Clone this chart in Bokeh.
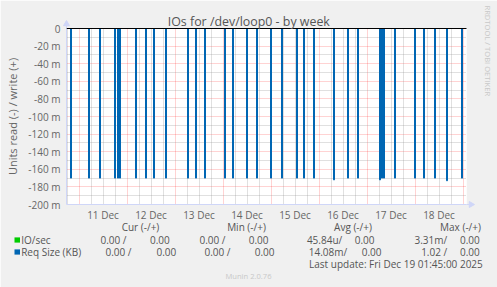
import math
import pandas as pd
from bokeh.plotting import figure
from bokeh.models import Range1d, FixedTicker, Grid, CustomJSTickFormatter
from bokeh.core.properties import value
from bokeh.embed import file_html
from bokeh.resources import INLINE

# ---------------- data ----------------
title_text = "IOs for /dev/loop0 - by week"
y_label = "Units read (-) / write (+)"
window_start = "2025-12-10 17:45"
window_end = "2025-12-19 01:45"
day_labels = ["2025-12-11", "2025-12-12", "2025-12-13", "2025-12-14",
              "2025-12-15", "2025-12-16", "2025-12-17", "2025-12-18"]
y_ticks = [0, -20, -40, -60, -80, -100, -120, -140, -160, -180, -200]  # milli-units

# Req Size (KB), read side (negative), in milli-units
spike_times = [
    "2025-12-10 20:00", "2025-12-11 05:00", "2025-12-11 10:30", "2025-12-11 18:00",
    "2025-12-11 19:30", "2025-12-11 20:30", "2025-12-12 04:30", "2025-12-12 09:30",
    "2025-12-12 13:30", "2025-12-12 19:30", "2025-12-13 06:30", "2025-12-13 10:30",
    "2025-12-13 15:00", "2025-12-14 01:00", "2025-12-14 05:00", "2025-12-14 12:00",
    "2025-12-14 17:00", "2025-12-15 00:00", "2025-12-15 05:30", "2025-12-15 13:00",
    "2025-12-15 16:30", "2025-12-15 21:30", "2025-12-16 07:30", "2025-12-16 14:30",
    "2025-12-16 19:30", "2025-12-17 06:30", "2025-12-17 07:30", "2025-12-17 08:30",
    "2025-12-17 14:00", "2025-12-18 00:00", "2025-12-18 04:30", "2025-12-18 10:00",
    "2025-12-18 16:00", "2025-12-18 23:30",
]
spike_values = [
    -170, -170, -170, -170, -170, -170, -170, -170,
    -170, -170, -170, -170, -170, -170, -170, -170,
    -170, -170, -170, -170, -170, -170, -172, -170,
    -170, -172, -170, -170, -170, -170, -170, -170,
    -173, -170,
]

legend_names = ["IO/sec", "Req Size (KB)"]
legend_colors = ["#00cc00", "#0066b3"]
cur_read = ["0.00 ", "0.00 "]
cur_write = ["0.00", "0.00"]
min_read = ["0.00 ", "0.00 "]
min_write = ["0.00", "0.00"]
avg_read = ["45.84u", "14.08m"]
avg_write = ["0.00", "0.00"]
max_read = ["3.31m", "1.02 "]
max_write = ["0.00", "0.00"]
headers = ["Cur (-/+)", "Min (-/+)", "Avg (-/+)", "Max (-/+)"]
last_update = "Last update: Fri Dec 19 01:45:00 2025"
munin_version = "Munin 2.0.76"
watermark = "RRDTOOL / TOBI OETIKER"

# ---------------- helpers ----------------
def ms(s):
    return pd.Timestamp(s).value // 10**6

FONT = "Open Sans"
AXC = "#CFD6F8"
TXT = "#555555"
W, H = 497, 287
FL, FR, FT, FB = 66, 466, 28, 204   # frame edges in canvas px

x0, x1 = ms(window_start), ms(window_end)

p = figure(width=W, height=H, x_axis_type="datetime", output_backend="svg",
           toolbar_location=None, title=None,
           x_range=Range1d(x0, x1), y_range=Range1d(-200, 0),
           min_border_left=FL, min_border_right=W - FR,
           min_border_top=FT, min_border_bottom=H - FB)
p.border_fill_color = "#f0f0f0"
p.background_fill_color = "white"
p.outline_line_color = None
# canvas-pixel coordinate system for the decorations around the plot area
p.extra_x_ranges = {"px": Range1d(FL, FR)}
p.extra_y_ranges = {"px": Range1d(FB, FT)}

# ---------------- grids ----------------
noon_ticks = [ms(d + " 12:00") for d in day_labels]
midnights = [ms(d) for d in day_labels] + [ms("2025-12-19")]
six_hours = [int(t.value // 10**6)
             for t in pd.date_range("2025-12-10 18:00", "2025-12-19 00:00", freq="6h")
             if t.hour != 0]
minor_y = [v - 10 for v in y_ticks[:-1]]

# major grid (red dotted) -- configure before adding the minor grids
p.xgrid.ticker = FixedTicker(ticks=midnights)
p.ygrid.ticker = FixedTicker(ticks=y_ticks)
for g in (p.xgrid, p.ygrid):
    g.grid_line_color = "#ff0000"
    g.grid_line_alpha = 0.35
    g.grid_line_dash = "1 1"

# minor grid (grey dotted)
p.add_layout(Grid(dimension=0, axis=p.xaxis[0], ticker=FixedTicker(ticks=six_hours),
                  grid_line_color="#909090", grid_line_alpha=0.55, grid_line_dash="1 1",
                  level="underlay"), "center")
p.add_layout(Grid(dimension=1, axis=p.yaxis[0], ticker=FixedTicker(ticks=minor_y),
                  grid_line_color="#909090", grid_line_alpha=0.55, grid_line_dash="1 1",
                  level="underlay"), "center")

# ---------------- axes ----------------
p.xaxis.ticker = FixedTicker(ticks=noon_ticks)
p.xaxis.formatter = CustomJSTickFormatter(code="""
const m = ["Jan","Feb","Mar","Apr","May","Jun","Jul","Aug","Sep","Oct","Nov","Dec"];
const d = new Date(tick);
return d.getUTCDate() + " " + m[d.getUTCMonth()];
""")
p.yaxis.ticker = FixedTicker(ticks=y_ticks)
p.yaxis.formatter = CustomJSTickFormatter(code="return tick == 0 ? '0' : tick + ' m';")
for ax in (p.xaxis, p.yaxis):
    ax.axis_line_color = AXC
    ax.major_tick_out = 0
    ax.major_tick_in = 0
    ax.minor_tick_out = 0
    ax.minor_tick_in = 0
    ax.major_label_text_font = FONT
    ax.major_label_text_font_size = "10px"
    ax.major_label_text_color = "#666666"
p.xaxis.major_label_standoff = 3
p.yaxis.major_label_standoff = 6
p.yaxis.axis_label = y_label
p.yaxis.axis_label_text_font = FONT
p.yaxis.axis_label_text_font_size = "11px"
p.yaxis.axis_label_text_font_style = "normal"
p.yaxis.axis_label_text_color = "#666666"
p.yaxis.axis_label_standoff = 5

# ---------------- data marks: step-shaped spikes on the read side ----------------
half = 15 * 60 * 1000
xs, ys = [], []
for t, v in zip(spike_times, spike_values):
    c = ms(t)
    xs.append([c - half, c - half, c + half, c + half])
    ys.append([0, v, v, 0])
p.patches(xs, ys, fill_color="#0066b3", fill_alpha=0.2,
          line_color="#0066b3", line_width=1)

# zero line (write side is zero everywhere)
p.segment(x0=[x0], y0=[0], x1=[x1], y1=[0], line_color="black", line_width=1, level="overlay")

# ---------------- axis arrows (canvas px) ----------------
p.segment(x0=[FR, FL], y0=[FB, FT], x1=[FR + 3, FL], y1=[FB, FT - 3],
          line_color=AXC, line_width=1, x_range_name="px", y_range_name="px", level="overlay")
p.scatter(x=[FR + 4.5, FL], y=[FB, FT - 4.5], marker="triangle", size=6,
          angle=[-math.pi / 2, 0], fill_color=AXC, line_color=AXC,
          x_range_name="px", y_range_name="px", level="overlay")

# ---------------- texts around the plot (canvas px) ----------------
def texts(items, size="10px", color=TXT, align="left", angle=0.0):
    p.text(x=[it[1] for it in items], y=[it[2] for it in items], text=[it[0] for it in items],
           text_font=value(FONT), text_font_size=value(size), text_color=color,
           text_align=align, text_baseline="middle", angle=angle,
           x_range_name="px", y_range_name="px", level="overlay")

texts([(title_text, 248.3, 20.5)], size="12.4px", align="center")
texts([(watermark, 487.3, 5)], size="7.6px", color="#c8c8c8", angle=-math.pi / 2)
texts(list(zip(headers, [140, 246, 352.5, 460], [226.5] * 4)), align="center")

row_y = [239.5, 251.5]
row_right = [
    [126, 169.3, 225, 268, 341.7, 374, 446.7, 479.3],
    [131, 175.7, 230, 274, 346.7, 381, 446.7, 479.3],
]
p.quad(left=[14, 14], right=[19.5, 19.5], top=[y - 2.6 for y in row_y],
       bottom=[y + 2.6 for y in row_y], fill_color=legend_colors, line_color=None,
       x_range_name="px", y_range_name="px", level="overlay")
texts([(legend_names[i], 20.7, row_y[i]) for i in range(2)])
value_items = []
for i in range(2):
    vals = [cur_read[i] + "/", cur_write[i], min_read[i] + "/", min_write[i],
            avg_read[i] + "/", avg_write[i], max_read[i] + "/", max_write[i]]
    for v, rx in zip(vals, row_right[i]):
        value_items.append((v, rx, row_y[i]))
texts(value_items, align="right")
texts([(last_update, 482.3, 263)], align="right")
texts([(munin_version, 248, 275)], size="7.6px", color="#c8c8c8", align="center")

open("out.html", "w").write(file_html(p, INLINE))
